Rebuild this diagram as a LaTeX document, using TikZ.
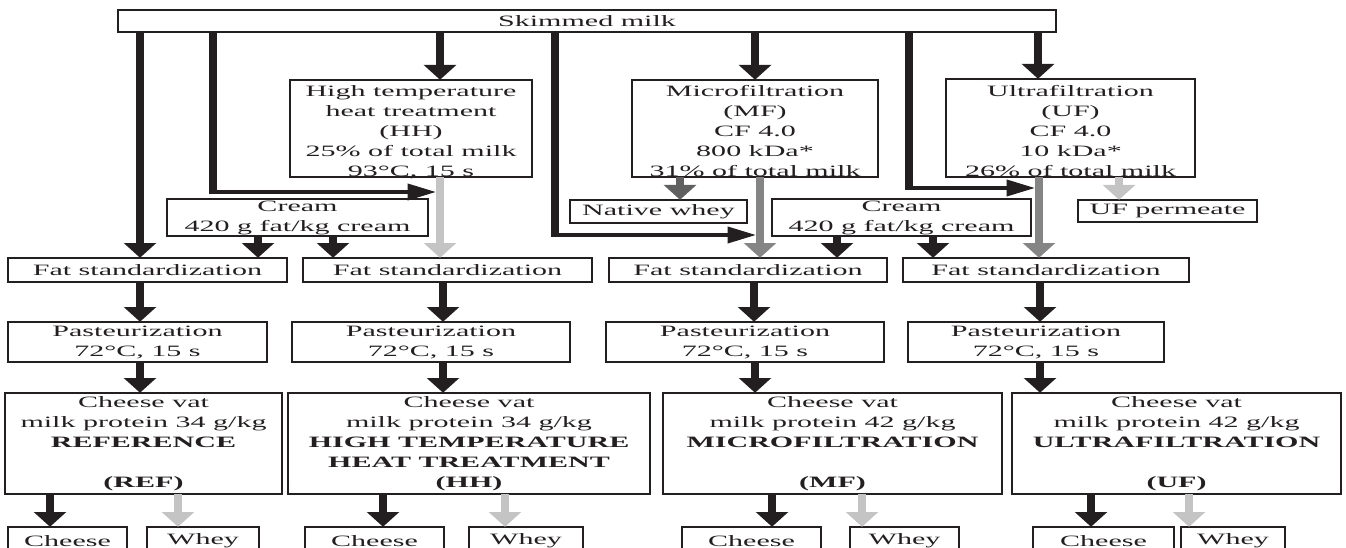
\documentclass[tikz,border=0pt]{standalone}
\usepackage{fontspec}
\setmainfont{Liberation Serif}
\usetikzlibrary{arrows.meta}
\definecolor{ink}{HTML}{231F20}
\definecolor{lightg}{HTML}{C4C4C4}
\definecolor{midg}{HTML}{858585}
\definecolor{darkg}{HTML}{606060}
\tikzset{
  box/.style={draw=ink, line width=1.1pt, inner sep=0pt, outer sep=0pt,
    align=center, text=ink, font=\fontsize{15.8}{20}\selectfont},
  flow/.style={line width=3.8pt, line join=miter,
    -{Triangle[width=16pt,length=15pt]}},
  darr/.style={flow, draw=ink},
  larr/.style={flow, draw=lightg},
  marr/.style={flow, draw=midg},
  garr/.style={flow, draw=darkg}
}
\newcommand\flowbox[6]{%
  \node[box, minimum width={((#4)-(#2))*1pt/1.9}, minimum height={((#5)-(#3))*1pt}]
    (#1) at ({((#2)+(#4))/2},{((#3)+(#5))/2}) {#6};}
\newcommand\tallline{\rule{0pt}{16.4pt}}
\begin{document}
\begin{tikzpicture}
\useasboundingbox (0,0) rectangle (1346pt,-548pt);
\begin{scope}[transform canvas={xscale=1.9}, x=0.526316pt, y=-1pt]
% boxes
\flowbox{skim}{118}{10}{1056}{32}{Skimmed milk}
\flowbox{hh}{290}{80}{532}{177}{\tallline High temperature\\heat treatment\\(HH)\\25\% of total milk\\\smash{93°C, 15 s}}
\flowbox{mf}{632}{80}{878}{177}{\tallline Microfiltration\\(MF)\\CF 4.0\\800 kDa*\\\smash{31\% of total milk}}
\flowbox{uf}{946}{79}{1195}{177}{\tallline Ultrafiltration\\(UF)\\CF 4.0\\10 kDa*\\\smash{26\% of total milk}}
\flowbox{cr1}{167}{199}{428}{236}{Cream\\420 g fat/kg cream}
\flowbox{nw}{570}{200}{747}{223}{Native whey}
\flowbox{cr2}{772}{199}{1031}{236}{Cream\\420 g fat/kg cream}
\flowbox{ufp}{1078}{200}{1257}{222}{UF permeate}
\flowbox{fs1}{8}{258}{287}{282}{Fat standardization}
\flowbox{fs2}{303}{258}{592}{282}{Fat standardization}
\flowbox{fs3}{609}{258}{887}{282}{Fat standardization}
\flowbox{fs4}{903}{258}{1189}{282}{Fat standardization}
\flowbox{p1}{8}{322}{267}{362}{Pasteurization\\72°C, 15 s}
\flowbox{p2}{292}{322}{570}{362}{Pasteurization\\72°C, 15 s}
\flowbox{p3}{606}{322}{884}{362}{Pasteurization\\72°C, 15 s}
\flowbox{p4}{908}{322}{1164}{362}{Pasteurization\\72°C, 15 s}
\flowbox{cv1}{5}{393}{282}{494}{Cheese vat\\milk protein 34 g/kg\\\textbf{REFERENCE}\\[20pt]\textbf{(REF)}}
\flowbox{cv2}{288}{393}{650}{494}{Cheese vat\\milk protein 34 g/kg\\\textbf{HIGH TEMPERATURE}\\\textbf{HEAT TREATMENT}\\\textbf{(HH)}}
\flowbox{cv3}{663}{393}{1002}{494}{Cheese vat\\milk protein 42 g/kg\\\textbf{MICROFILTRATION}\\[20pt]\textbf{(MF)}}
\flowbox{cv4}{1012}{393}{1341}{494}{Cheese vat\\milk protein 42 g/kg\\\textbf{ULTRAFILTRATION}\\[20pt]\textbf{(UF)}}
\flowbox{ch1}{8}{527}{127}{555}{Cheese}
\flowbox{wh1}{147}{527}{259}{555}{Whey}
\flowbox{ch2}{305}{527}{444}{555}{Cheese}
\flowbox{wh2}{469}{527}{583}{555}{Whey}
\flowbox{ch3}{682}{527}{821}{555}{Cheese}
\flowbox{wh3}{850}{527}{959}{555}{Whey}
\flowbox{ch4}{1033}{527}{1174}{555}{Cheese}
\flowbox{wh4}{1181}{527}{1285}{555}{Whey}
% column coordinates
\foreach \c in {50,140,178,213,258,333,383,440,443,505,555,680,754,755,760,772,837,862,909,933,1038,1039,1040,1091,1119,1189}
  \coordinate (x\c) at (\c,0);
\coordinate (e2) at (436,192);
\coordinate (e4) at (756,235);
\coordinate (e6) at (1035,188);
% from skimmed milk
\draw[darr] (skim.south -| x140) -- (fs1.north -| x140);
\draw[darr] (skim.south -| x213) |- (e2);
\draw[darr] (skim.south -| x440) -- (hh.north -| x440);
\draw[darr] (skim.south -| x555) |- (e4);
\draw[darr] (skim.south -| x755) -- (mf.north -| x755);
\draw[darr] (skim.south -| x909) |- (e6);
\draw[darr] (skim.south -| x1038) -- (uf.north -| x1038);
% treatments
\draw[larr] (hh.south -| x440) -- (fs2.north -| x440);
\draw[garr] (mf.south -| x680) -- (nw.north -| x680);
\draw[marr] (mf.south -| x760) -- (fs3.north -| x760);
\draw[marr] (uf.south -| x1039) -- (fs4.north -| x1039);
\draw[larr] (uf.south -| x1119) -- (ufp.north -| x1119);
% cream
\draw[darr] (cr1.south -| x258) -- (fs1.north -| x258);
\draw[darr] (cr1.south -| x333) -- (fs2.north -| x333);
\draw[darr] (cr2.south -| x837) -- (fs3.north -| x837);
\draw[darr] (cr2.south -| x933) -- (fs4.north -| x933);
% fat standardization -> pasteurization
\draw[darr] (fs1.south -| x140) -- (p1.north -| x140);
\draw[darr] (fs2.south -| x443) -- (p2.north -| x443);
\draw[darr] (fs3.south -| x754) -- (p3.north -| x754);
\draw[darr] (fs4.south -| x1040) -- (p4.north -| x1040);
% pasteurization -> cheese vat
\draw[darr] (p1.south -| x140) -- (cv1.north -| x140);
\draw[darr] (p2.south -| x443) -- (cv2.north -| x443);
\draw[darr] (p3.south -| x755) -- (cv3.north -| x755);
\draw[darr] (p4.south -| x1040) -- (cv4.north -| x1040);
% cheese vat -> cheese / whey
\draw[darr] (cv1.south -| x50) -- (ch1.north -| x50);
\draw[larr] (cv1.south -| x178) -- (wh1.north -| x178);
\draw[darr] (cv2.south -| x383) -- (ch2.north -| x383);
\draw[larr] (cv2.south -| x505) -- (wh2.north -| x505);
\draw[darr] (cv3.south -| x772) -- (ch3.north -| x772);
\draw[larr] (cv3.south -| x862) -- (wh3.north -| x862);
\draw[darr] (cv4.south -| x1091) -- (ch4.north -| x1091);
\draw[larr] (cv4.south -| x1189) -- (wh4.north -| x1189);
\end{scope}
\end{tikzpicture}
\end{document}
